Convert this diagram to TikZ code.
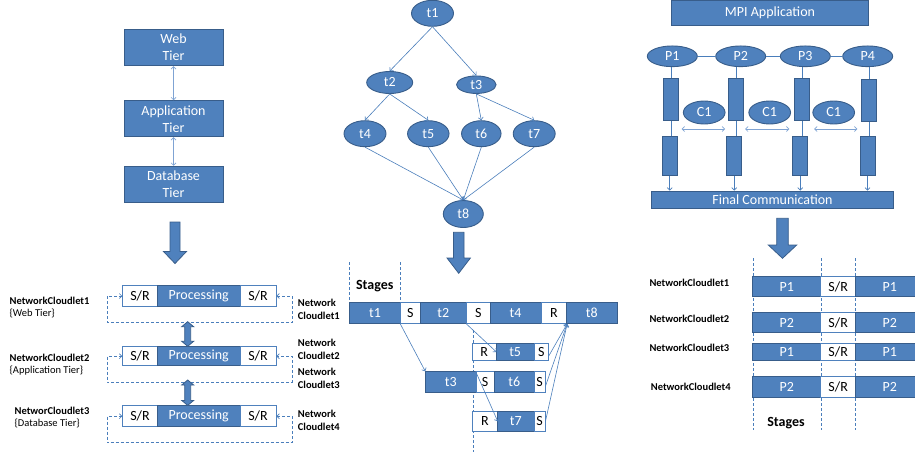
\documentclass[tikz,border=0pt]{standalone}
\usepackage{fontspec}
\setmainfont{Carlito}
\usetikzlibrary{arrows.meta,shapes.geometric,calc}
\definecolor{boxblue}{HTML}{4F81BD}
\definecolor{bordblue}{HTML}{385D8A}
\definecolor{lineblue}{HTML}{4A7EBB}
\definecolor{lightline}{HTML}{7FA3D3}
\newcommand\bigdownarr[6]{%
 \filldraw[bigarr] ({#1-#5},#2) -- ({#1+#5},#2) -- ({#1+#5},#3) -- ({#1+#6},#3) -- (#1,#4) -- ({#1-#6},#3) -- ({#1-#5},#3) -- cycle;}
\newcommand\dblvarr[3]{%
 \filldraw[bigarr] (#1,#2) -- ({#1+6},{#2+5}) -- ({#1+3},{#2+5}) -- ({#1+3},{#3-5}) -- ({#1+6},{#3-5}) -- (#1,#3) -- ({#1-6},{#3-5}) -- ({#1-3},{#3-5}) -- ({#1-3},{#2+5}) -- ({#1-6},{#2+5}) -- cycle;}
\tikzset{
 bbox/.style={draw=bordblue, fill=boxblue, text=white, line width=0.9pt, inner sep=0pt, font=\fontsize{14}{17}\selectfont, align=center},
 wbox/.style={draw=boxblue, fill=white, text=black, line width=0.9pt, inner sep=0pt, font=\fontsize{14}{17}\selectfont},
 ell/.style={bbox, ellipse},
 sz/.style 2 args={minimum width=#1pt, minimum height=#2pt},
 conn/.style={draw=lineblue, line width=0.6pt},
 tip/.tip={Straight Barb[length=2.5pt,width=5pt]},
 arr/.style={conn, -tip},
 darr/.style={draw=lightline, line width=0.7pt, tip-tip},
 dconn/.style={conn, dash pattern=on 3pt off 2pt},
 bigarr/.style={fill=boxblue, draw=bordblue, line width=0.8pt},
 lbl/.style={font=\fontsize{10.5}{12}\selectfont, align=left, inner sep=0pt, text=black},
 stg/.style={font=\fontsize{14}{17}\selectfont\bfseries, inner sep=0pt},
}
\begin{document}
\begin{tikzpicture}[x=1pt,y=-1pt]
\useasboundingbox (0,0) rectangle (915,452);
\clip (0,0) rectangle (915,452);

% ---------------- left panel ----------------
\node[bbox, sz={99}{36.5}] (web) at (173.5,47.5) {Web\\Tier};
\node[bbox, sz={99}{36}] (app) at (173.5,118.7) {Application\\Tier};
\node[bbox, sz={99}{36}] (db) at (173.5,184.2) {Database\\Tier};
\draw[darr] (web) -- (app);
\draw[darr] (app) -- (db);
\bigdownarr{175}{222}{251.5}{263.5}{5}{11.5}

\node[wbox, sz={34.6}{21.4}] (l1) at (140,296) {S/R};
\node[bbox, sz={82.7}{21.4}] (lp1) at (198.65,296) {Processing};
\node[wbox, sz={36}{21.4}] (r1) at (258,296) {S/R};
\node[wbox, sz={34.6}{19}] (l2) at (140,356.2) {S/R};
\node[bbox, sz={82.7}{19}] (lp2) at (198.65,356.2) {Processing};
\node[wbox, sz={36}{19}] (r2) at (258,356.2) {S/R};
\node[wbox, sz={34.6}{21}] (l3) at (140,416.2) {S/R};
\node[bbox, sz={82.7}{21}] (lp3) at (198.65,416.2) {Processing};
\node[wbox, sz={36}{21}] (r3) at (258,416.2) {S/R};

\draw[dconn, tip-tip] (l1.west) -- ++(-15.4,0) -- ++(0,26.3) -| ([xshift=15.7pt]r1.east) -- (r1.east);
\draw[dconn, tip-tip] (l2.west) -- ++(-15.4,0) -- ++(0,25.8) -| ([xshift=15.7pt]r2.east) -- (r2.east);
\draw[dconn, tip-tip] (l3.west) -- ++(-15.4,0) -- ++(0,26.5) -| ([xshift=15.7pt]r3.east) -- (r3.east);

\dblvarr{187.7}{321.7}{346.3}
\dblvarr{187.7}{380}{405.4}

\node[lbl, anchor=west] (nl1) at (9.5,307.5) {{\bfseries NetworkCloudlet1}\\\{Web Tier\}};
\node[lbl, anchor=west] (nl2) at (9.5,364.8) {{\bfseries NetworkCloudlet2}\\\{Application Tier\}};
\node[lbl, anchor=west] (nl3) at (14.5,417.8) {{\bfseries NetworCloudlet3}\\\{Database Tier\}};

\node[lbl, anchor=west, font=\fontsize{10.5}{13}\selectfont\bfseries] (nr1) at (297.7,309.7) {Network\\Cloudlet1};
\node[lbl, anchor=west, font=\fontsize{10.5}{13}\selectfont\bfseries] (nr2) at (297.7,349.7) {Network\\Cloudlet2};
\node[lbl, anchor=west, font=\fontsize{10.5}{13}\selectfont\bfseries] (nr3) at (297.7,378.3) {Network\\Cloudlet3};
\node[lbl, anchor=west, font=\fontsize{10.5}{13}\selectfont\bfseries] (nr4) at (297.7,420) {Network\\Cloudlet4};

% ---------------- middle panel ----------------
\node[ell, sz={42}{26}] (t1) at (432.5,13.3) {t1};
\node[ell, sz={46}{22}] (t2) at (389.7,82.5) {t2};
\node[ell, sz={39.5}{17.5}] (t3) at (476.3,84.7) {t3};
\node[ell, sz={42}{26}] (t4) at (365,133.7) {t4};
\node[ell, sz={41.5}{26}] (t5) at (428.3,133.7) {t5};
\node[ell, sz={39.5}{26}] (t6) at (481.3,133.7) {t6};
\node[ell, sz={42}{26}] (t7) at (534.2,133.7) {t7};
\node[ell, sz={40}{27}] (t8) at (463.3,214) {t8};
\draw[arr] (t1.south) -- (t2.north);
\draw[arr] (t1.south) -- (t3.north);
\draw[arr] (t2.south) -- (t4.north);
\draw[arr] (t2.south) -- (t5.north);
\draw[arr] (t3.south) -- (t6.north);
\draw[arr] (t3.south) -- (t7.north);
\foreach \s in {t4,t5,t6,t7} \draw[arr] (\s.south) -- (t8.north);
\bigdownarr{458.7}{232.3}{258}{273.3}{5.3}{11.7}

\draw[dconn] (349.3,262) -- (349.3,303);
\draw[dconn] (400.7,262) -- (400.7,303);
\draw[dconn] (473.3,330) -- (473.3,452);
\node[stg] (stg1) at (374.7,285.7) {Stages};

\node[bbox, sz={51.4}{20.7}] (a1) at (375,313) {t1};
\node[wbox, sz={19.3}{20.7}] (a2) at (410.35,313) {S};
\node[bbox, sz={46.7}{20.7}] (a3) at (443.35,313) {t2};
\node[wbox, sz={23.3}{20.7}] (a4) at (478.35,313) {S};
\node[bbox, sz={51}{20.7}] (a5) at (515.5,313) {t4};
\node[wbox, sz={25.7}{20.7}] (a6) at (553.85,313) {R};
\node[bbox, sz={50.3}{20.7}] (a7) at (591.85,313) {t8};

\node[wbox, sz={23.7}{17.4}] (b1) at (484.15,352) {R};
\node[bbox, sz={38.3}{17.4}] (b2) at (515.15,352) {t5};
\node[wbox, sz={14}{17.4}] (b3) at (541.3,352) {S};

\node[bbox, sz={50.3}{21}] (c1) at (450.85,382.2) {t3};
\node[wbox, sz={18.3}{21}] (c2) at (485.15,382.2) {S};
\node[bbox, sz={40}{21}] (c3) at (514.3,382.2) {t6};
\node[wbox, sz={10.7}{21}] (c4) at (539.65,382.2) {S};

\node[wbox, sz={25}{20.7}] (d1) at (484.8,421.35) {R};
\node[bbox, sz={37}{20.7}] (d2) at (515.8,421.35) {t7};
\node[wbox, sz={10.7}{20.7}] (d3) at (539.65,421.35) {S};

\draw[arr] (a2.south west) -- (c1.north west);
\draw[arr] (a4.south west) -- (b1.east);
\draw[arr] (c2.north west) -- (d1.east);
\draw[arr] ([yshift=-4pt]b3.east) -- (a6.south east);
\draw[arr] ([yshift=-4pt]c4.east) -- (a6.south east);
\draw[arr] (d3.east) -- (a6.south east);

% ---------------- right panel ----------------
\node[bbox, sz={196.6}{24.6}] (mpi) at (770,12.8) {MPI Application};
\node[ell, sz={50}{20.7}] (P1) at (672.3,56.3) {P1};
\node[ell, sz={50}{20.7}] (P2) at (740.7,56.3) {P2};
\node[ell, sz={50}{20.7}] (P3) at (805.3,56.3) {P3};
\node[ell, sz={50}{20.7}] (P4) at (867.7,56.3) {P4};
\draw[conn] (P1) -- (P2);
\draw[conn] (P2) -- (P3);
\draw[conn] (P3) -- (P4);

\node[bbox, sz={15}{42.4}] (u1) at (671,99.5) {};
\node[bbox, sz={15}{42.4}] (u2) at (735.8,99.5) {};
\node[bbox, sz={15}{42.4}] (u3) at (801.8,99.5) {};
\node[bbox, sz={15}{42.4}] (u4) at (869.2,100.5) {};
\node[bbox, sz={15}{38.3}] (w1) at (669.7,155.9) {};
\node[bbox, sz={15}{38.3}] (w2) at (734.2,155.9) {};
\node[bbox, sz={15}{38.3}] (w3) at (800.2,155.9) {};
\node[bbox, sz={15}{38.3}] (w4) at (867.5,155.9) {};
\node[bbox, sz={241.6}{17.3}] (fin) at (772.5,199.65) {Final Communication};

\foreach \i in {1,2,3,4} {
  \draw[conn] (u\i.north |- P\i.south) -- (u\i.north);
  \draw[conn] (u\i.south) -- (u\i.south |- w\i.north);
  \draw[arr] (w\i.south) -- (w\i.south |- fin.north);
}

\node[ell, sz={41.7}{23}] (ca) at (704.2,112.5) {C1};
\node[ell, sz={41.7}{23}] (cb) at (769.7,112.5) {C1};
\node[ell, sz={41.7}{23}] (cc) at (833.7,112.5) {C1};
\coordinate (ha1) at (681.7,129); \coordinate (hb1) at (725,129);
\coordinate (ha2) at (745,129);   \coordinate (hb2) at (789.3,129);
\coordinate (ha3) at (814,129);   \coordinate (hb3) at (857.3,129);
\draw[darr] (ha1) -- (hb1);
\draw[darr] (ha2) -- (hb2);
\draw[darr] (ha3) -- (hb3);

\bigdownarr{782.5}{218.3}{245}{258.3}{5.8}{14.2}

\draw[dconn] (753.3,258.3) -- (753.3,430);
\draw[dconn] (821,258.3) -- (821,430);
\draw[dconn] (855.7,258.3) -- (855.7,430);

\node[bbox, sz={68}{20}] (q11) at (786.7,286.7) {P1};
\node[wbox, sz={35}{20}] (q12) at (838.2,286.7) {S/R};
\node[bbox, sz={68.3}{20}] (q13) at (889.85,286.7) {P1};
\node[bbox, sz={68}{20}] (q21) at (786.7,322.7) {P2};
\node[wbox, sz={35}{20}] (q22) at (838.2,322.7) {S/R};
\node[bbox, sz={68.3}{20}] (q23) at (889.85,322.7) {P2};
\node[bbox, sz={68}{16.7}] (q31) at (786.7,351.65) {P1};
\node[wbox, sz={35}{16.7}] (q32) at (838.2,351.65) {S/R};
\node[bbox, sz={68.3}{16.7}] (q33) at (889.85,351.65) {P1};
\node[bbox, sz={68}{21}] (q41) at (786.7,387.2) {P2};
\node[wbox, sz={35}{21}] (q42) at (838.2,387.2) {S/R};
\node[bbox, sz={68.3}{21}] (q43) at (889.85,387.2) {P2};

\node[lbl, anchor=west, font=\fontsize{10.5}{12}\selectfont\bfseries] (nc1) at (649.3,283.3) {NetworkCloudlet1};
\node[lbl, anchor=west, font=\fontsize{10.5}{12}\selectfont\bfseries] (nc2) at (649.3,319.3) {NetworkCloudlet2};
\node[lbl, anchor=west, font=\fontsize{10.5}{12}\selectfont\bfseries] (nc3) at (649.3,348.3) {NetworkCloudlet3};
\node[lbl, anchor=west, font=\fontsize{10.5}{12}\selectfont\bfseries] (nc4) at (650.7,386.7) {NetworkCloudlet4};
\node[stg] (stg2) at (786,422.7) {Stages};
\end{tikzpicture}
\end{document}
